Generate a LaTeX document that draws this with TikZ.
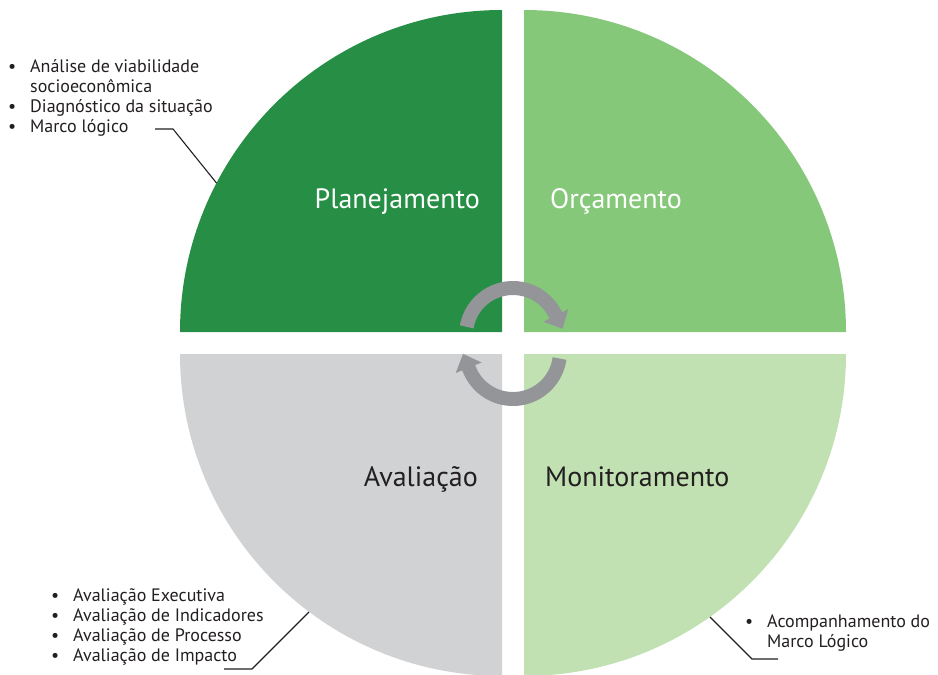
\documentclass[tikz,border=0pt]{standalone}
\usepackage{fontspec}
\setmainfont{PT Sans}
\usetikzlibrary{positioning,arrows.meta}
\definecolor{planGreen}{HTML}{268F45}
\definecolor{budgetGreen}{HTML}{86C87A}
\definecolor{monitGreen}{HTML}{C1E1B3}
\definecolor{evalGray}{HTML}{D1D2D4}
\definecolor{arrowGray}{HTML}{939598}
\definecolor{textDark}{HTML}{231F20}
\newcommand{\bul}{\makebox[22pt][l]{\textbullet}}
\newcommand{\nobul}{\makebox[22pt][l]{}}

\begin{document}
\begin{tikzpicture}[x=1pt,y=1pt,
  phase/.style={font=\fontsize{28}{33}\selectfont,inner sep=0pt},
  bullets/.style={font=\fontsize{18}{20.3}\selectfont,inner sep=0pt,anchor=base west,text=textDark},
  cyclearrow/.style={draw=arrowGray,line width=14pt,-{Triangle[width=27pt,length=15pt]}},
  leader/.style={draw=textDark,line width=1.1pt}]
\useasboundingbox (0,0) rectangle (938,-675);

\fill[planGreen] (502,-332) -- ++(-322,0) arc[start angle=180,end angle=90,radius=322] -- cycle;
\fill[budgetGreen] (524,-332) -- ++(0,322) arc[start angle=90,end angle=0,radius=322] -- cycle;
\fill[evalGray] (502,-354) -- ++(-322,0) arc[start angle=180,end angle=270,radius=322] -- cycle;
\fill[monitGreen] (524,-354) -- ++(322,0) arc[start angle=0,end angle=-90,radius=322] -- cycle;

\draw[cyclearrow] (513,-335) ++(170:47) arc[start angle=170,end angle=27,radius=47] -- ++(-63:17);
\draw[cyclearrow] (513,-352) ++(-8:47) arc[start angle=-8,end angle=-158,radius=47] -- ++(112:17);

\node[phase,text=white,anchor=base east] (plan) at (480,-208) {Planejamento};
\node[phase,text=white,anchor=base west] (budget) at (550,-208) {Orçamento};
\node[phase,text=textDark,anchor=base east] (eval) at (478,-486) {Avaliação};
\node[phase,text=textDark,anchor=base west] (monit) at (545,-486) {Monitoramento};

\node[bullets] (planlist) at (8,-72) {\begin{tabular}[t]{@{}l@{}}
\bul Análise de viabilidade\\
\nobul socioeconômica\\
\bul Diagnóstico da situação\\
\bul Marco lógico
\end{tabular}};
\node[bullets] (evallist) at (51,-601) {\begin{tabular}[t]{@{}l@{}}
\bul Avaliação Executiva\\
\bul Avaliação de Indicadores\\
\bul Avaliação de Processo\\
\bul Avaliação de Impacto
\end{tabular}};
\node[bullets] (monitlist) at (745,-627) {\begin{tabular}[t]{@{}l@{}}
\bul Acompanhamento do\\
\nobul Marco Lógico
\end{tabular}};

\coordinate (planfrom) at (155,-129);
\coordinate (planto) at (216.5,-183);
\coordinate (evalfrom) at (224,-669);
\coordinate (evalto) at (309,-612);
\coordinate (monitfrom) at (778,-659);
\coordinate (monitto) at (710,-617);
\draw[leader] (planfrom) -- ++(18,0) -- (planto);
\draw[leader] (evalfrom) -- ++(28,0) -- (evalto);
\draw[leader] (monitfrom) -- ++(-26,0) -- (monitto);
\end{tikzpicture}
\end{document}
